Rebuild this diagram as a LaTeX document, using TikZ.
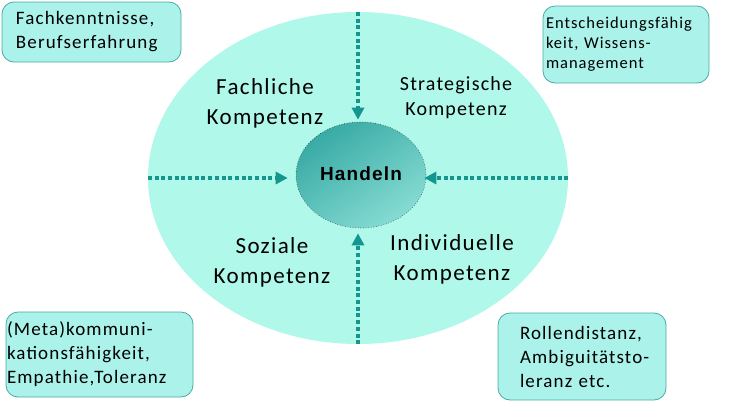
\documentclass[tikz,border=0pt]{standalone}
\usepackage{fontspec}
\setmainfont[LetterSpace=6]{Carlito}
\newfontfamily\arialfont[LetterSpace=6]{Liberation Sans}
\usetikzlibrary{shapes.geometric,arrows.meta}
\definecolor{ellfill}{HTML}{B0F8EA}
\definecolor{boxfill}{HTML}{AAF2EA}
\definecolor{boxline}{HTML}{4AAAA6}
\definecolor{arrowc}{HTML}{14968F}
\definecolor{innerdark}{HTML}{38AAA4}
\definecolor{innerlight}{HTML}{86DCD4}
\begin{document}
\begin{tikzpicture}[x=1pt,y=-1pt,
  infobox/.style={draw=boxline, fill=boxfill, rounded corners=12pt, line width=0.8pt,
    align=left, inner sep=0pt, font=\fontsize{19}{24}\selectfont},
  flow/.style={draw=arrowc, line width=4pt, dash pattern=on 4pt off 2.7pt,
    -{Triangle[width=12pt,length=12pt]}},
  qlabel/.style={align=center, font=\fontsize{23}{30}\selectfont}]
\useasboundingbox (0,0) rectangle (744,405);
% outer ellipse
\node[ellipse, fill=ellfill, minimum width=420pt, minimum height=332pt, inner sep=0pt] (outer) at (358,178) {};
% inner ellipse
\node[ellipse, minimum width=130pt, minimum height=106pt, inner sep=0pt,
  top color=innerdark, bottom color=innerlight, shading angle=35] (innerfill) at (361,175) {};
\node[ellipse, minimum width=130pt, minimum height=106pt, inner sep=0pt,
  draw=black!75, line width=0.6pt, dotted,
  font=\arialfont\bfseries\fontsize{19}{21}\selectfont] (inner) at (361,175) {\raisebox{2pt}{Handeln}};
% arrows
\draw[flow, shorten >=2pt] (outer.north) -- (outer.north |- inner.north);
\draw[flow, shorten >=5pt] (outer.south) -- (outer.south |- inner.south);
\draw[flow, shorten >=8pt] (outer.west) -- (outer.west -| inner.west);
\draw[flow, shorten >=-2pt] (outer.east) -- (outer.east -| inner.east);
% quadrant labels
\node[qlabel] (fach) at (265,103) {Fachliche\\Kompetenz};
\node[qlabel, font=\fontsize{20}{25}\selectfont] (strat) at (456,98) {Strategische\\Kompetenz};
\node[qlabel] (soz) at (272,262) {Soziale\\Kompetenz};
\node[qlabel] (ind) at (452,259) {Individuelle\\Kompetenz};
% corner boxes
\node[infobox, minimum width=179pt, minimum height=60pt, text width=151pt] (tl) at (91.5,32)
  {\mbox{Fachkenntnisse,}\\\mbox{Berufserfahrung}};
\node[infobox, minimum width=166pt, minimum height=77pt, text width=160pt,
  font=\fontsize{16.5}{20}\selectfont] (tr) at (626,44.5)
  {\mbox{Entscheidungsfähig}\\\mbox{keit, Wissens-}\\\mbox{management}};
\node[infobox, minimum width=187pt, minimum height=85pt, text width=185pt] (bl) at (99.5,354.5)
  {\mbox{(Meta)kommuni-}\\\mbox{kationsfähigkeit,}\\\mbox{Empathie,Toleranz}};
\node[infobox, minimum width=168pt, minimum height=87pt, text width=124pt] (br) at (582,356.5)
  {\mbox{Rollendistanz,}\\\mbox{Ambiguitätsto-}\\\mbox{leranz etc.}};
\end{tikzpicture}
\end{document}
